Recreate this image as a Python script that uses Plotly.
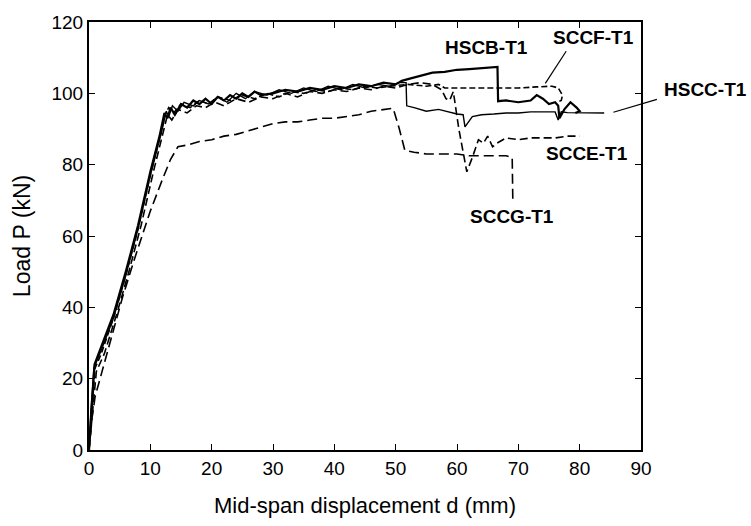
import plotly.graph_objects as go

# ---------------- data ----------------
hscb_x = [0, 0.4, 0.9, 2, 4, 6, 8, 10, 11.5, 12.3, 12.8, 13.3, 14, 15, 16, 17, 18, 19, 20, 21, 22,
          23, 24, 25, 26, 27, 28, 30, 32, 34, 36, 38, 40, 42, 44, 46, 48, 50, 51, 52, 53, 54, 56,
          58, 60, 62, 64, 66.6, 66.7, 68, 70, 72, 73, 74, 75, 76, 76.5, 76.7, 77.5, 78.5, 79.5, 80, 79.3]
hscb_y = [0, 12, 24, 29, 38, 50, 63, 78, 88, 94.5, 93, 96, 94, 97, 96, 98, 97, 98.5, 97, 99, 98,
          99.5, 98.5, 100, 99, 100.5, 99.5, 100, 101, 100.5, 101.5, 101, 102, 101.5, 102.5, 102, 103,
          102.5, 103.5, 104, 104.5, 105, 105.8, 106, 106.6, 106.8, 107, 107.4, 97.8, 98, 97.5, 98,
          99.5, 98.5, 97, 97.5, 96.5, 93, 95.5, 97.5, 96, 95, 94.5]

hscc_x = [0, 0.3, 0.8, 2, 4, 6, 8, 10, 11.8, 12.6, 13, 13.6, 14.5, 15.5, 17, 18, 19.5, 21, 22.5, 24,
          25.5, 27, 29, 31, 33, 35, 37, 39, 41, 43, 45, 47, 49, 50.5, 51.7, 51.8, 53, 55, 57, 58.5, 60,
          61, 61.3, 62.5, 64, 66, 68, 70, 72, 74, 76, 76.5, 77, 78, 80, 82, 84]
hscc_y = [0, 11, 23, 28, 37, 49, 62, 77, 89, 95, 93.5, 96.5, 95, 97.5, 96.5, 98, 97, 99, 97.5, 100,
          98.5, 100.5, 99.5, 101, 100, 101.5, 100.5, 102, 101, 102.5, 101.5, 102.5, 102, 103, 103,
          96.5, 96, 95, 95.5, 94.8, 94.2, 94, 90.6, 93.5, 94, 94.2, 94.5, 94.5, 94.8, 94.8, 94.8,
          92.5, 94.8, 94.6, 94.6, 94.5, 94.5]

sccf_x = [0, 0.4, 1, 2, 4, 6, 8, 10, 11.6, 12.4, 13, 13.8, 15, 16.5, 18, 19.5, 21, 23, 25, 27, 29,
          31, 33, 35, 37, 39, 41, 43, 45, 47, 49, 52, 55, 57, 58, 59, 61, 64, 67, 70, 73, 75.5, 76.5,
          77.2, 77, 76.3]
sccf_y = [0, 11, 23, 27, 37, 49, 62, 77, 88, 94, 96, 94.5, 97, 96, 98, 97, 99, 98, 99.5, 98.5,
          100, 99, 100.5, 100, 101, 100.5, 101.5, 101, 102, 101.5, 102, 102.5, 102, 102.5, 101.5,
          101.5, 101.5, 101.5, 101.5, 101.5, 101.8, 102, 101.5, 99.5, 98, 97.5]

scce_x = [0, 0.5, 1.2, 2.5, 4.5, 6.5, 8.5, 10.5, 12, 12.8, 13.5, 14.5, 16, 17.5, 19, 20.5, 22, 24,
          26, 28, 30, 32, 34, 36, 38, 40, 42, 44, 46, 48, 50, 52, 54, 56, 57.5, 58.2, 58.8, 59.4,
          60.3, 61.6, 62.5, 63.5, 64.3, 65, 65.8, 66.5, 68, 70, 72, 74, 76, 78, 80]
scce_y = [0, 10, 22, 27, 38, 50, 63, 78, 89, 94, 92.5, 95.5, 94.5, 96.5, 96, 97.5, 96.5, 98.5,
          97.5, 99, 98.5, 100, 99, 100.5, 100, 101, 100.5, 101.5, 101, 102, 101.5, 102.5, 103,
          102.5, 101, 98.5, 98, 100.5, 90, 78, 82, 87, 86, 88, 85, 86, 87.5, 87, 87.5, 87.5, 87.5,
          88, 88]

sccg_x = [0, 0.5, 1, 1.8, 3.5, 5.5, 7.5, 10, 12, 13.3, 14.5, 16, 18, 20, 22, 24, 26, 28, 30, 32,
          34, 36, 38, 40, 42, 44, 46, 48, 49.6, 50.6, 51.5, 53, 55, 58, 60, 62, 65, 68, 69, 69.1]
sccg_y = [0, 9, 15, 20, 31, 43, 54, 67, 76, 81.5, 85, 85.5, 86.5, 87, 88, 88.5, 89.5, 90.5, 91.5,
          92, 92, 92.5, 93, 93, 93.5, 94, 95, 95.5, 95.8, 90, 84, 83.5, 83, 83, 83, 82.5, 82.5,
          82.5, 82, 70]

x_ticks = [0, 10, 20, 30, 40, 50, 60, 70, 80, 90]
y_ticks = [0, 20, 40, 60, 80, 100, 120]
x_range = [0, 90]
y_range = [0, 120]

labels = ["HSCB-T1", "SCCF-T1", "HSCC-T1", "SCCE-T1", "SCCG-T1"]
label_x = [64.8, 82.2, 100.5, 81.2, 69.0]
label_y = [112.8, 115.6, 101.2, 83.2, 65.4]

# pointer lines (start, end) in data units
ptr_sccf = [(77.8, 111.8), (74.4, 102.8)]
ptr_hscc = [(92.6, 98.3), (85.5, 94.7)]


def px(v):
    return (v - x_range[0]) / (x_range[1] - x_range[0])


def py(v):
    return (v - y_range[0]) / (y_range[1] - y_range[0])


# ---------------- figure ----------------
fig = go.Figure()
fig.add_trace(go.Scatter(x=hscb_x, y=hscb_y, mode="lines", name="HSCB-T1",
                         line=dict(color="black", width=2.2)))
fig.add_trace(go.Scatter(x=hscc_x, y=hscc_y, mode="lines", name="HSCC-T1",
                         line=dict(color="black", width=1.4)))
fig.add_trace(go.Scatter(x=sccf_x, y=sccf_y, mode="lines", name="SCCF-T1",
                         line=dict(color="black", width=1.6, dash="6px,3px")))
fig.add_trace(go.Scatter(x=scce_x, y=scce_y, mode="lines", name="SCCE-T1",
                         line=dict(color="black", width=1.6, dash="8px,4px")))
fig.add_trace(go.Scatter(x=sccg_x, y=sccg_y, mode="lines", name="SCCG-T1",
                         line=dict(color="black", width=1.6, dash="10px,5px")))

for t, lx, ly in zip(labels, label_x, label_y):
    fig.add_annotation(x=px(lx), y=py(ly), xref="paper", yref="paper",
                       xanchor="center", yanchor="middle",
                       text="<b>" + t + "</b>", showarrow=False,
                       font=dict(family="Liberation Sans, Arial", size=19, color="black"))

for (s, e) in (ptr_sccf, ptr_hscc):
    fig.add_shape(type="line", xref="paper", yref="paper",
                  x0=px(s[0]), y0=py(s[1]), x1=px(e[0]), y1=py(e[1]),
                  line=dict(color="black", width=1.2))

axis_common = dict(showgrid=False, zeroline=False, showline=True, linecolor="black",
                   linewidth=2, mirror="ticks", ticks="inside", ticklen=6, tickwidth=1,
                   tickcolor="black",
                   tickfont=dict(family="Liberation Sans, Arial", size=19, color="black"))

fig.update_layout(
    width=751, height=526,
    margin=dict(l=89, r=110, t=14, b=69),
    paper_bgcolor="white", plot_bgcolor="white",
    showlegend=False,
    xaxis=dict(range=x_range, tickvals=x_ticks,
               title=dict(text="Mid-span displacement d (mm)", standoff=20,
                          font=dict(family="Liberation Sans, Arial", size=22, color="black")),
               **axis_common),
    yaxis=dict(range=y_range, tickvals=y_ticks,
               title=dict(text="Load P (kN)", standoff=14,
                          font=dict(family="Liberation Sans, Arial", size=23, color="black")),
               **axis_common),
)

fig.write_html("out.html")
